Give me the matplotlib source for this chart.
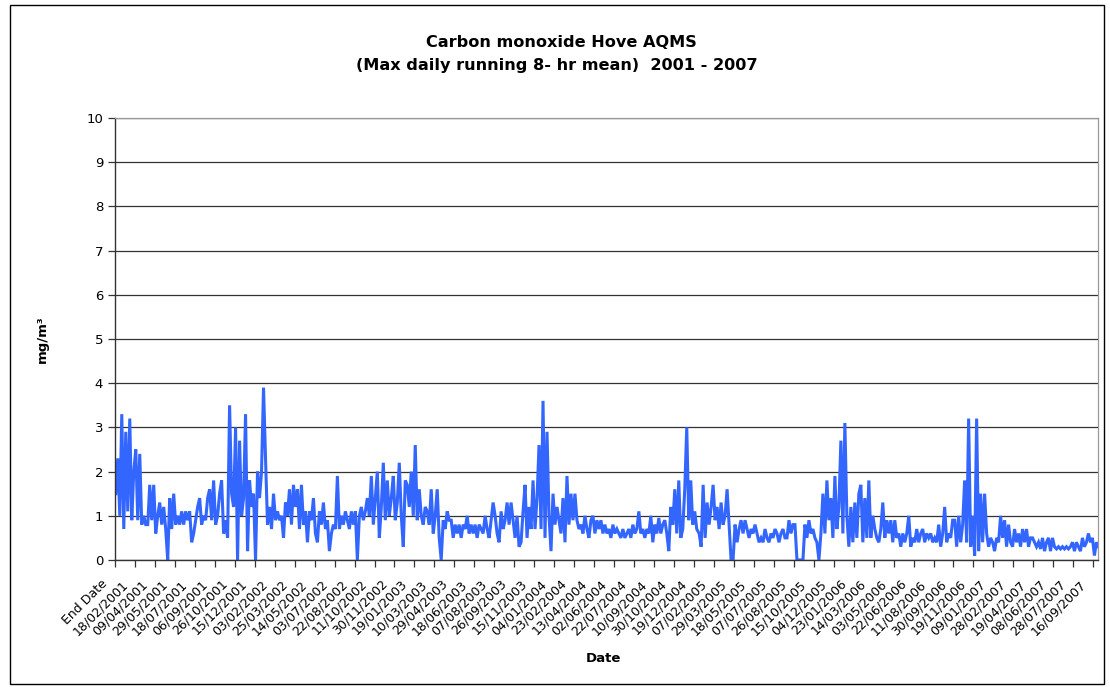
import numpy as np
import pandas as pd
import matplotlib
matplotlib.use('Agg')
import matplotlib.pyplot as plt
from matplotlib.patches import Rectangle
from matplotlib.transforms import ScaledTranslation

# CO, max daily running 8-hr mean (mg/m3), every 5 days
co_2001 = [1.5, 2.3, 1.0, 3.3, 0.7, 2.9, 1.1, 3.2, 0.9, 2.0, 2.5, 0.9, 2.4, 0.8, 1.0,
           0.8, 0.8, 1.7, 0.9, 1.7, 0.6, 1.0, 1.3, 0.8, 1.2, 0.7, 0.0, 1.4, 0.7, 1.5,
           0.8, 1.0, 0.8, 1.1, 0.8, 1.1, 0.9, 1.1, 0.4, 0.6, 0.9, 1.2, 1.4, 0.8, 1.0,
           0.9, 1.4, 1.6, 0.9, 1.8, 0.8, 1.0, 1.5, 1.8, 0.6, 0.9, 0.5, 3.5, 1.5, 1.2,
           3.0, 0.0, 2.7, 1.0, 1.4, 3.3, 0.2, 1.8, 1.2, 1.5, 0.0, 2.0, 1.4]
co_2002 = [2.0, 3.9, 2.3, 0.8, 1.2, 0.7, 1.5, 0.9, 1.1, 0.9, 1.0, 0.5, 1.3, 1.0, 1.6,
           0.8, 1.7, 1.2, 1.6, 0.7, 1.7, 0.8, 1.1, 0.4, 1.1, 0.9, 1.4, 0.6, 0.4, 1.1,
           0.8, 1.3, 0.7, 0.9, 0.2, 0.6, 0.8, 0.7, 1.9, 0.7, 1.0, 0.8, 1.1, 0.9, 0.7,
           1.1, 0.8, 1.1, 0.0, 1.0, 1.2, 0.9, 1.1, 1.4, 1.0, 1.9, 0.8, 1.4, 2.0, 0.5,
           1.2, 2.2, 0.9, 1.8, 1.0, 1.4, 1.9, 0.9, 1.3, 2.2, 1.0, 0.3, 1.8]
co_2003 = [1.7, 1.2, 2.0, 1.0, 2.6, 0.9, 1.6, 1.0, 0.8, 1.2, 1.1, 0.8, 1.6, 0.6, 1.0,
           1.6, 0.5, 0.0, 0.9, 0.7, 1.1, 0.9, 0.9, 0.5, 0.8, 0.6, 0.8, 0.5, 0.8, 0.7,
           1.0, 0.6, 0.8, 0.6, 0.8, 0.5, 0.8, 0.7, 0.6, 1.0, 0.7, 0.5, 0.9, 1.3, 1.0,
           0.6, 0.4, 1.1, 0.7, 0.9, 1.3, 0.8, 1.3, 0.9, 0.5, 1.0, 0.3, 0.4, 1.1, 1.7,
           0.5, 1.2, 0.7, 1.8, 0.7, 1.4, 2.6, 0.7, 3.6, 0.5, 2.9, 1.0, 0.2]
co_2004 = [1.5, 0.8, 1.2, 0.9, 0.6, 1.4, 0.4, 1.9, 0.8, 1.5, 0.9, 1.5, 0.9, 0.7, 0.8,
           0.6, 1.0, 0.7, 0.5, 0.9, 1.0, 0.6, 0.9, 0.7, 0.9, 0.6, 0.8, 0.6, 0.7, 0.5,
           0.8, 0.6, 0.7, 0.6, 0.5, 0.7, 0.5, 0.6, 0.7, 0.5, 0.8, 0.6, 0.7, 1.1, 0.6,
           0.7, 0.5, 0.7, 0.6, 1.0, 0.4, 0.8, 0.6, 0.95, 0.6, 0.8, 0.9, 0.6, 0.2, 1.2,
           0.8, 1.6, 0.6, 1.8, 0.5, 0.7, 1.6, 3.0, 0.9, 1.8, 0.8, 1.1, 0.7]
co_2005 = [0.6, 0.3, 1.7, 0.5, 1.3, 0.8, 1.2, 1.7, 0.9, 1.2, 0.7, 1.3, 0.8, 1.0, 1.6,
           0.8, 0.0, 0.0, 0.8, 0.4, 0.7, 0.9, 0.6, 0.9, 0.7, 0.5, 0.7, 0.6, 0.8, 0.6,
           0.4, 0.5, 0.4, 0.7, 0.5, 0.4, 0.6, 0.5, 0.7, 0.6, 0.4, 0.6, 0.7, 0.5, 0.5,
           0.9, 0.6, 0.8, 0.8, 0.0, 0.0, 0.0, 0.0, 0.8, 0.5, 0.9, 0.6, 0.7, 0.5, 0.4,
           0.0, 0.6, 1.5, 0.6, 1.8, 0.9, 1.4, 0.5, 1.9, 0.7, 1.2, 2.7, 0.6]
co_2006 = [3.1, 1.0, 0.3, 1.2, 0.4, 1.3, 0.5, 1.5, 1.7, 0.4, 1.4, 0.5, 1.8, 0.5, 1.0,
           0.7, 0.5, 0.4, 0.7, 1.3, 0.5, 0.9, 0.6, 0.9, 0.4, 0.9, 0.5, 0.6, 0.3, 0.6,
           0.4, 0.6, 1.0, 0.3, 0.5, 0.4, 0.7, 0.4, 0.6, 0.7, 0.4, 0.6, 0.5, 0.6, 0.4,
           0.5, 0.4, 0.8, 0.3, 0.6, 1.2, 0.4, 0.6, 0.5, 0.9, 0.9, 0.3, 1.0, 0.4, 0.8,
           1.8, 0.4, 3.2, 0.3, 1.0, 0.1, 3.2, 0.2, 1.5, 0.4, 1.5, 0.6, 0.3]
co_2007 = [0.5, 0.4, 0.2, 0.5, 0.4, 1.0, 0.5, 0.9, 0.3, 0.8, 0.4, 0.3, 0.7, 0.4, 0.6,
           0.3, 0.7, 0.4, 0.7, 0.3, 0.5, 0.5, 0.4, 0.3, 0.4, 0.25, 0.5, 0.2, 0.4, 0.5,
           0.2, 0.5, 0.3, 0.25, 0.3, 0.25, 0.3, 0.25, 0.3, 0.25, 0.3, 0.4, 0.2, 0.4, 0.3,
           0.2, 0.5, 0.3, 0.4, 0.6, 0.4, 0.5, 0.1, 0.4, 0.3]

# category axis labels (one every 50 rows of the sheet)
tick_labels = ['End Date', '18/02/2001', '09/04/2001', '29/05/2001', '18/07/2001',
               '06/09/2001', '26/10/2001', '15/12/2001', '03/02/2002', '25/03/2002',
               '14/05/2002', '03/07/2002', '22/08/2002', '11/10/2002', '30/11/2002',
               '19/01/2003', '10/03/2003', '29/04/2003', '18/06/2003', '07/08/2003',
               '26/09/2003', '15/11/2003', '04/01/2004', '23/02/2004', '13/04/2004',
               '02/06/2004', '22/07/2004', '10/09/2004', '30/10/2004', '19/12/2004',
               '07/02/2005', '29/03/2005', '18/05/2005', '07/07/2005', '26/08/2005',
               '15/10/2005', '04/12/2005', '23/01/2006', '14/03/2006', '03/05/2006',
               '22/06/2006', '11/08/2006', '30/09/2006', '19/11/2006', '09/01/2007',
               '28/02/2007', '19/04/2007', '08/06/2007', '28/07/2007', '16/09/2007']

series = {2001: co_2001, 2002: co_2002, 2003: co_2003, 2004: co_2004,
          2005: co_2005, 2006: co_2006, 2007: co_2007}

# row 0 of the sheet is the header, row 1 is 31/12/2000
origin = pd.Timestamp('2000-12-31')
x_vals, y_vals = [], []
for year, vals in series.items():
    days = pd.date_range(f'{year}-01-01', periods=len(vals), freq='5D')
    x_vals.extend((days - origin).days + 1)
    y_vals.extend(vals)
x_vals = np.array(x_vals)
y_vals = np.array(y_vals)

plt.rcParams['font.family'] = ['DejaVu Sans']

fig = plt.figure(figsize=(11.1, 6.87), dpi=100)
ax = fig.add_axes([0.1036, 0.1849, 0.8856, 0.6433])

ax.plot(x_vals, y_vals, color='#3366ff', lw=2.2, solid_joinstyle='miter')

ax.set_ylim(0, 10)
ax.set_xlim(0, 2462)
ax.set_yticks(range(0, 11))
ax.yaxis.grid(True, color='#333333', lw=0.9)
ax.set_axisbelow(True)

ax.set_xticks(np.arange(len(tick_labels)) * 50)
ax.set_xticklabels(tick_labels, rotation=45, ha='right', va='top',
                   rotation_mode='anchor', fontsize=9)
ax.tick_params(axis='x', direction='out', length=5, width=0.9, pad=4, color='#333333')
ax.tick_params(axis='y', direction='out', length=5, width=0.9, labelsize=9.5, color='#333333')

# nudge the slanted labels so they end just left of / below their tick
shift = ScaledTranslation(-0.14, -0.05, fig.dpi_scale_trans)
for lbl in ax.get_xticklabels():
    lbl.set_transform(lbl.get_transform() + shift)

for side in ['left', 'bottom']:
    ax.spines[side].set_color('#333333')
    ax.spines[side].set_linewidth(1.0)
for side in ['top', 'right']:
    ax.spines[side].set_color('#999999')
    ax.spines[side].set_linewidth(0.9)

fig.text(0.506, 0.938, 'Carbon monoxide Hove AQMS', ha='center', va='center',
         fontsize=11.6, fontweight='bold')
fig.text(0.502, 0.904, '(Max daily running 8- hr mean)  2001 - 2007', ha='center',
         va='center', fontsize=11.6, fontweight='bold')
fig.text(0.038, 0.506, 'mg/m³', rotation=90, ha='center', va='center',
         fontsize=9.5, fontweight='bold')
fig.text(0.544, 0.042, 'Date', ha='center', va='center', fontsize=9.5, fontweight='bold')

# outer chart border
fig.patches.append(Rectangle((0.009, 0.004), 0.986, 0.989, transform=fig.transFigure,
                             fill=False, edgecolor='black', lw=1.0))

fig.savefig('out.png', dpi=100)
